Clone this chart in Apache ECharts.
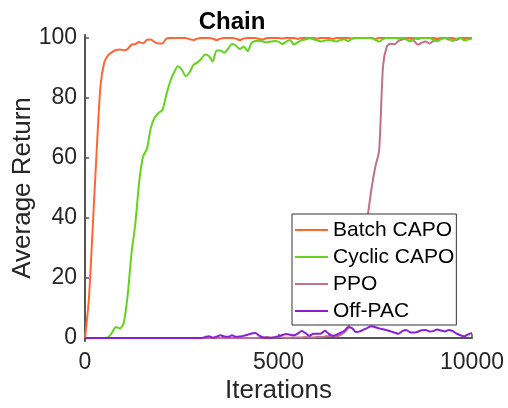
<!DOCTYPE html>
<html>
<head>
<meta charset="utf-8">
<script src="https://cdn.jsdelivr.net/npm/echarts@6/dist/echarts.min.js"></script>
<style>html,body{margin:0;padding:0;background:#fff}#chart{width:508px;height:408px}</style>
</head>
<body>
<div id="chart"></div>
<script>
// sample step along the iteration axis (0..10000)
var step = 100;
var seriesNames = ["Batch CAPO", "Cyclic CAPO", "PPO", "Off-PAC"];
var xTicks = [0, 5000, 10000];
var yTicks = [0, 20, 40, 60, 80, 100];

var batchCapo = [0, 13, 37, 62, 84, 92, 94.3, 95.3, 96, 96.2,
    95.9, 96.3, 97.8, 98, 98.7, 98.2, 99.4, 99.5, 98.6, 98.2,
    98.2, 99.8, 100, 100, 100, 100, 100, 99.6, 99.3, 99.8,
    100, 100, 100, 99.8, 99.3, 99.8, 100, 100, 100, 99.8,
    99.3, 99.8, 100, 100, 100, 99.7, 99.5, 100, 100, 100,
    100, 99.8, 100, 100, 100, 99.7, 100, 100, 100, 100,
    99.8, 100, 100, 100, 99.7, 100, 100, 100, 100, 99.8,
    100, 100, 100, 100, 100, 99.7, 100, 100, 100, 100,
    100, 99.8, 100, 100, 100, 100, 99.7, 100, 100, 100,
    100, 99.8, 100, 100, 100, 100, 99.7, 100, 100, 100, 100];

var cyclicCapo = [0, 0, 0, 0, 0, 0, 0.2, 1.8, 3.7, 3.2,
    5, 14, 28, 38, 52, 60.5, 63, 70, 73.5, 75,
    76, 81, 85.5, 88.5, 90.6, 89.5, 87.3, 88.5, 91, 91.8,
    93, 94.5, 94, 92.2, 95.8, 95.8, 95.1, 96.5, 98, 97.5,
    96.3, 97.2, 95.6, 98.3, 99, 99.1, 98.8, 98.6, 98.8, 99,
    98.8, 98, 98.8, 99.3, 97.8, 98.6, 99.3, 99.5, 99.9, 99.6,
    99.2, 98.8, 99.2, 99.3, 99.1, 98.8, 99.3, 99.6, 98.9, 99.8,
    100, 100, 100, 100, 100, 99.4, 98.8, 99.6, 100, 100,
    100, 100, 100, 99.5, 98.9, 99.6, 100, 100, 100, 100,
    99.4, 98.9, 99.6, 100, 99.7, 99, 99.7, 100, 99.2, 99.5, 99.8];

var ppo = [0, 0, 0, 0, 0, 0, 0, 0, 0, 0,
    0, 0, 0, 0, 0, 0, 0, 0, 0, 0,
    0, 0, 0, 0, 0, 0, 0, 0, 0, 0,
    0, 0, 0, 0, 0, 0, 0, 0, 0, 0,
    0, 0, 0, 0, 0, 0.1, 0.2, 0.3, 0.2, 0.2,
    0.3, 0.2, 0.1, 0.1, 0.2, 0.2, 0.2, 0.3, 0.2, 0.2,
    0.3, 0.3, 0.5, 0.7, 0.8, 0.6, 1, 1.8, 3.5, 8,
    15, 22, 30, 40, 49.5, 57, 62.5, 90.5, 97.2, 98.1,
    97.9, 99, 99.5, 99.8, 99.8, 99, 97.8, 98.4, 98.8, 98.2,
    99, 99.5, 99.8, 100, 99.5, 99.8, 99.3, 100, 99.7, 99.8, 100];

var offPac = [0, 0, 0, 0, 0, 0, 0, 0, 0, 0,
    0, 0, 0, 0, 0, 0, 0, 0, 0, 0,
    0, 0, 0, 0, 0, 0, 0, 0, 0, 0,
    0, 0.3, 0.6, 0.1, 0.4, 0.9, 0.5, 0.4, 0.9, 0.4,
    0.5, 0.7, 1.1, 1.5, 1.7, 0.8, 0.2, 0.1, 0, 0.3,
    0.6, 1, 1.3, 1.1, 0.9, 1.5, 2.3, 1.6, 0.7, 1.4,
    1.4, 1.5, 2.4, 1.4, 0.7, 1.1, 1.7, 2.4, 3.6, 3.3,
    2, 2.2, 2.8, 3.4, 3.9, 3.6, 3.2, 2.9, 2.6, 2.2,
    1.8, 1.4, 2.3, 2.7, 1.9, 1.8, 2.1, 2.6, 2.7, 2.2,
    2.3, 2.8, 2.5, 2.2, 2.7, 2.3, 1.5, 0.9, 0.6, 1.2, 1.7];

var colors = {"Batch CAPO": "#ff6633", "Cyclic CAPO": "#62d41c", "PPO": "#c0708a", "Off-PAC": "#8a1ed6"};
var font = "Liberation Sans, Arial, sans-serif";
var txt = "#262626", axisCol = "#555555";

function pairs(vals) {
    var out = [];
    for (var i = 0; i < vals.length; i++) out.push([i * step, vals[i]]);
    return out
}

function mkSeries(name, vals) {
    return {
        name: name, type: "line", data: pairs(vals), symbol: "none", smooth: 0.25,
        lineStyle: {width: 2, color: colors[name]}, itemStyle: {color: colors[name]}
    }
}

var chart = echarts.init(document.getElementById("chart"));
chart.setOption({
    animation: false,
    backgroundColor: "#fff",
    title: {
        text: "Chain", left: 227, top: 5, textAlign: "center",
        textStyle: {fontFamily: font, fontSize: 24, fontWeight: "bold", color: "#000"}
    },
    grid: {left: 85, right: 36, top: 35, bottom: 67, containLabel: false, outerBoundsMode: "none"},
    legend: {
        data: seriesNames, orient: "vertical", left: 292, top: 214,
        padding: [5, 2, 3, 3], itemGap: 5, itemWidth: 33, itemHeight: 2, icon: "rect",
        backgroundColor: "#fff", borderColor: "#333", borderWidth: 1, borderRadius: 0,
        textStyle: {fontFamily: font, fontSize: 21, color: "#000", lineHeight: 22}
    },
    xAxis: {
        type: "value", min: 0, max: 10000, interval: 5000,
        name: "Iterations", nameLocation: "middle", nameGap: 37, nameMoveOverlap: false,
        nameTextStyle: {fontFamily: font, fontSize: 26, color: txt},
        axisLine: {lineStyle: {color: axisCol, width: 2}},
        axisTick: {inside: true, length: 4, lineStyle: {color: axisCol, width: 1.5}},
        axisLabel: {margin: 10, fontFamily: font, fontSize: 23, color: txt, formatter: function (v) { return String(v) }},
        splitLine: {show: false}
    },
    yAxis: {
        type: "value", min: -1, max: 101,
        name: "Average Return", nameLocation: "middle", nameGap: 49, nameMoveOverlap: false,
        nameTextStyle: {fontFamily: font, fontSize: 26, color: txt},
        axisLine: {show: true, lineStyle: {color: axisCol, width: 2}},
        axisTick: {show: true, inside: true, length: 4, customValues: yTicks, lineStyle: {color: axisCol, width: 1.5}},
        axisLabel: {margin: 8, fontFamily: font, fontSize: 23, color: txt, customValues: yTicks},
        splitLine: {show: false}
    },
    series: [
        mkSeries("PPO", ppo),
        mkSeries("Batch CAPO", batchCapo),
        mkSeries("Cyclic CAPO", cyclicCapo),
        mkSeries("Off-PAC", offPac)
    ]
});
</script>
</body>
</html>
